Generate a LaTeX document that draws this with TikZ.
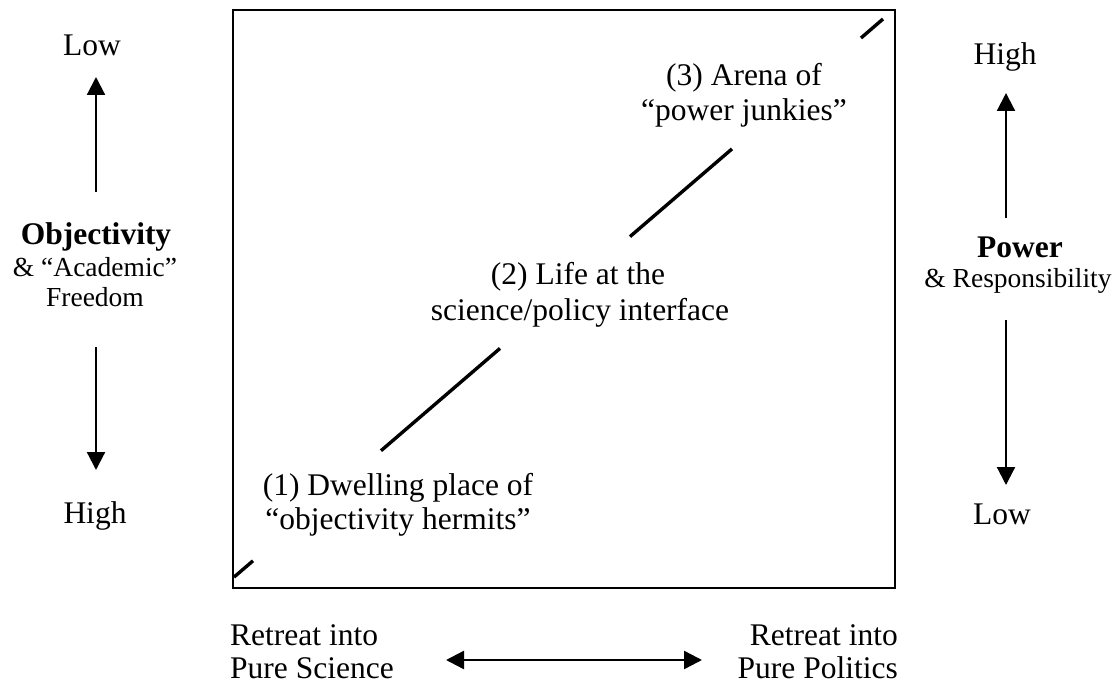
\documentclass[tikz,border=0pt]{standalone}
\usepackage{fontspec}
\setmainfont{Liberation Serif}
\usetikzlibrary{arrows.meta}
\begin{document}
\begin{tikzpicture}[x=1pt,y=-1pt,
  lbl/.style={anchor=base,inner sep=0pt,font=\fontsize{31.5}{35}\selectfont},
  sublbl/.style={anchor=base,inner sep=0pt,font=\fontsize{27.5}{31}\selectfont},
  ttl/.style={anchor=base,inner sep=0pt,font=\fontsize{31.5}{35}\selectfont\bfseries},
  axis/.style={line width=2.2pt,-{Triangle[length=18pt,width=18pt]}},
  dblaxis/.style={line width=2.4pt,{Triangle[length=18pt,width=18pt]}-{Triangle[length=18pt,width=18pt]}},
  diag/.style={line width=3.4pt},
  frame/.style={line width=2.6pt}]
\useasboundingbox (0,0) rectangle (1118,684);

% main frame
\draw[frame] (233,10) rectangle (895,588);

% diagonal (interrupted by labels)
\coordinate (d1a) at (234,577.1);
\coordinate (d1b) at (253,560.8);
\coordinate (d2a) at (381,450.7);
\coordinate (d2b) at (500,348.4);
\coordinate (d3a) at (630,236.6);
\coordinate (d3b) at (732,148.9);
\coordinate (d4a) at (861,38);
\coordinate (d4b) at (883,19);
\draw[diag] (d1a) -- (d1b);
\draw[diag] (d2a) -- (d2b);
\draw[diag] (d3a) -- (d3b);
\draw[diag] (d4a) -- (d4b);

% labels inside the frame
\node[lbl] (a1) at (744,86) {(3) Arena of};
\node[lbl] (a2) at (744,121) {“power junkies”};
\node[lbl] (b1) at (578,285) {(2) Life at the};
\node[lbl] (b2) at (580,320) {science/policy interface};
\node[lbl] (c1) at (398,495) {(1) Dwelling place of};
\node[lbl] (c2) at (398,529) {“objectivity hermits”};

% left axis
\node[lbl] (llow) at (92,56) {Low};
\node[ttl] (lttl) at (96,245) {Objectivity};
\node[sublbl] (lsub1) at (95,277) {\& “Academic”};
\node[sublbl] (lsub2) at (95,307) {Freedom};
\node[lbl] (lhigh) at (95,523) {High};
\coordinate (lua) at (96,192);
\coordinate (lub) at (96,77);
\coordinate (lda) at (96,347);
\coordinate (ldb) at (96,470);
\draw[axis] (lua) -- (lub);
\draw[axis] (lda) -- (ldb);

% right axis
\node[lbl] (rhigh) at (1005,65) {High};
\node[ttl] (rttl) at (1020,258) {Power};
\node[sublbl] (rsub) at (1018,288) {\& Responsibility};
\node[lbl] (rlow) at (1002,524) {Low};
\coordinate (rua) at (1006,218);
\coordinate (rub) at (1006,93);
\coordinate (rda) at (1006,320);
\coordinate (rdb) at (1006,485);
\draw[axis] (rua) -- (rub);
\draw[axis] (rda) -- (rdb);

% bottom axis
\node[lbl,anchor=base west] (bl1) at (230,645) {Retreat into};
\node[lbl,anchor=base west] (bl2) at (230,678) {Pure Science};
\node[lbl,anchor=base east] (br1) at (898,645) {Retreat into};
\node[lbl,anchor=base east] (br2) at (898,678) {Pure Politics};
\coordinate (ha) at (446,660);
\coordinate (hb) at (702,660);
\draw[dblaxis] (ha) -- (hb);
\end{tikzpicture}
\end{document}
